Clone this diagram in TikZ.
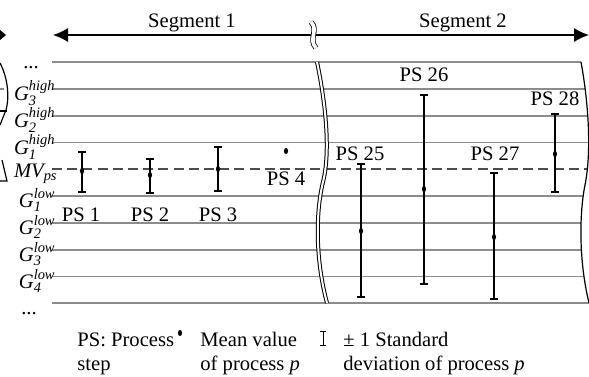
\documentclass[tikz,border=0pt]{standalone}
\usepackage{amsmath}
\usepackage{fontspec}
\setmainfont{Liberation Serif}
\usetikzlibrary{arrows.meta,calc,positioning}

\begin{document}
\begin{tikzpicture}[
  x=0.5pt, y=-0.5pt,
  font=\fontsize{10.3}{12}\selectfont,
  level/.style={draw=black!45, line width=0.9pt},
  meanline/.style={draw=black!70, line width=0.8pt, dash pattern=on 5pt off 2.6pt},
  segarrow/.style={{Latex[length=7.5pt,width=7pt]}-{Latex[length=7.5pt,width=7pt]}, line width=0.65pt},
  bar/.style={line width=0.65pt},
  brk/.style={double, double distance=1pt, line width=0.5pt},
  rim/.style={line width=0.6pt},
  lvllabel/.style={anchor=base east, inner sep=0pt},
  pslabel/.style={inner sep=0pt},
  legend/.style={anchor=north west, inner sep=0pt, align=left}
]
\useasboundingbox (0,0) rectangle (589,376);

\def\xL{52}
\def\xR{592}

% Cut-off parts of the neighbouring figure.
\fill (0,30) -- (6,35) -- (0,40) -- cycle;
\draw[rim] (0,63) .. controls (9,80) and (9,100) .. (6,110) -- (0,125);
\draw[rim] (0,111) -- (7,111);
\draw[rim] (2,160) -- (7,181) -- (0,181);
\draw[level] (0,89) -- (4,89);

% Segment arrow with break mark.
\coordinate (segL) at (53,35);
\coordinate (segR) at (589,35);
\draw[segarrow] (segL) -- (segR);
\draw[double, double distance=1.8pt, line width=0.4pt]
  (311,22) .. controls (319,30) and (308,39) .. (316,48);
\node[anchor=base] (seg1) at (192,27) {Segment 1};
\node[anchor=base] (seg2) at (463,27) {Segment 2};

% Levels.
\foreach \k in {0,1,2,3,5,6,7,8,9}{
  \draw[level] (\xL,62+26.8*\k) -- (\xR,62+26.8*\k);
}
\draw[meanline] (\xL,169.2) -- (\xR,169.2);

% Right edge.
\fill[white] (581,55) -- (581,62) .. controls (588,100) and (592,150) .. (585,185)
  .. controls (579,215) and (579,262) .. (589,303) -- (589,310) -- (600,310) -- (600,55) -- cycle;
\draw[rim] (581,62) .. controls (588,100) and (592,150) .. (585,185)
  .. controls (579,215) and (579,262) .. (589,303);

% Break between the segments.
\draw[brk] (317,62) .. controls (325,100) and (331,150) .. (323,182)
  .. controls (315,215) and (316,262) .. (327,303);

% Level labels.
\node[anchor=base] (dotsT) at (31,68) {...};
\node[lvllabel] (g3h) at (56,100) {$\textit{G}^{\textit{high}}_{\textit{3}}$};
\node[lvllabel] (g2h) at (56,127) {$\textit{G}^{\textit{high}}_{\textit{2}}$};
\node[lvllabel] (g1h) at (56,154) {$\textit{G}^{\textit{high}}_{\textit{1}}$};
\node[lvllabel] (mv) at (58,177) {$\textit{MV}_{\textit{ps}}$};
\node[lvllabel] (g1l) at (56,207) {$\textit{G}^{\textit{low}}_{\textit{1}}$};
\node[lvllabel] (g2l) at (56,234) {$\textit{G}^{\textit{low}}_{\textit{2}}$};
\node[lvllabel] (g3l) at (56,261) {$\textit{G}^{\textit{low}}_{\textit{3}}$};
\node[lvllabel] (g4l) at (56,288) {$\textit{G}^{\textit{low}}_{\textit{4}}$};
\node[anchor=base] (dotsB) at (29,314) {...};

% Process steps: x / upper / mean / lower.
\foreach \x/\hi/\mv/\lo in {82/152/171/192, 150/159/175/193, 218/147/169/191,
  361/164/231/297, 424/95/189/284, 494/173/237/299, 555/114/154/192}{
  \draw[bar] (\x-4,\hi) -- (\x+4,\hi) (\x,\hi) -- (\x,\lo) (\x-4,\lo) -- (\x+4,\lo);
  \fill (\x,\mv) ellipse [x radius=2.1, y radius=3];
}
\fill (286,151) ellipse [x radius=2.1, y radius=3];

\foreach \n/\x/\y in {1/81/215, 2/150/215, 3/218/215, 4/286/179,
  25/360/154, 26/424/75, 27/495/154, 28/555/99}{
  \node[pslabel] (ps\n) at (\x,\y) {PS \n};
}

% Legend.
\node[legend] (lgPS) at (77,332) {PS: Process\\step};
\fill (180,333) ellipse [x radius=2.1, y radius=3];
\node[legend] (lgMV) at (200,332) {Mean value\\of process \textit{p}};
\draw[line width=0.45pt] (320,331) -- (326,331) (323,331) -- (323,345) (320,345) -- (326,345);
\node[legend] (lgSD) at (343,332) {± 1 Standard\\deviation of process \textit{p}};

\end{tikzpicture}
\end{document}
